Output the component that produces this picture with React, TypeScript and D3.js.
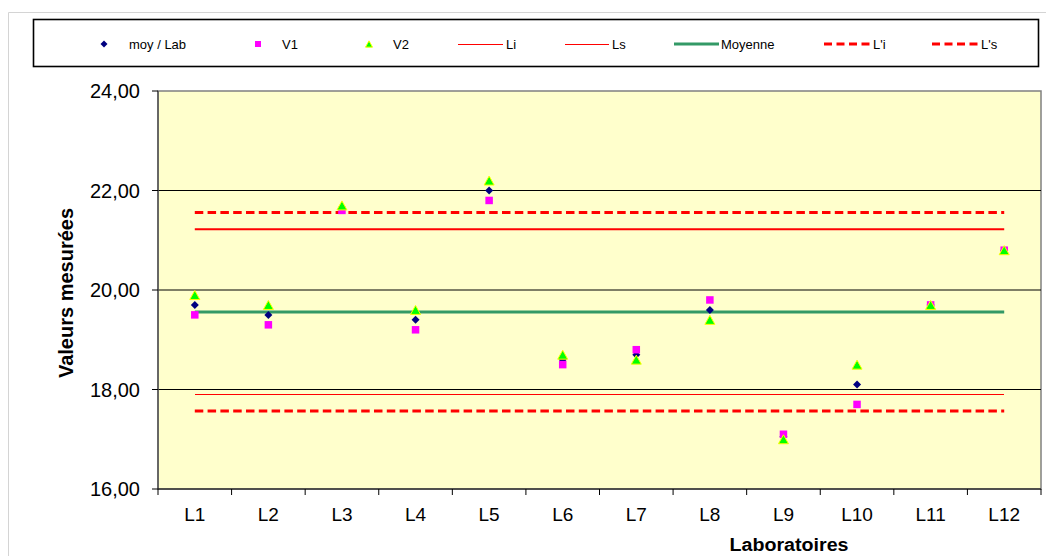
import React from "react";
import * as d3 from "d3";

const labs = ["L1", "L2", "L3", "L4", "L5", "L6", "L7", "L8", "L9", "L10", "L11", "L12"];
const moyLab = [19.7, 19.5, 21.65, 19.4, 22.0, 18.6, 18.7, 19.6, 17.05, 18.1, 19.7, 20.8];
const v1 = [19.5, 19.3, 21.6, 19.2, 21.8, 18.5, 18.8, 19.8, 17.1, 17.7, 19.7, 20.8];
const v2 = [19.9, 19.7, 21.7, 19.6, 22.2, 18.7, 18.6, 19.4, 17.0, 18.5, 19.7, 20.8];
const moyenne = 19.56;
const li = 17.89;
const ls = 21.22;
const lpi = 17.57;
const lps = 21.56;
const yTicks = [16, 18, 20, 22, 24];
const gridValues = [18, 20, 22];

const W = 1046;
const H = 556;
const plot = { left: 158, right: 1041, top: 91, bottom: 489 };

const fmt = (v: number) => v.toFixed(2).replace(".", ",");

const FONT = "'Liberation Sans', Arial, sans-serif";

function Diamond({ cx, cy, r }: { cx: number; cy: number; r: number }) {
  return (
    <path
      d={`M${cx},${cy - r}L${cx + r},${cy}L${cx},${cy + r}L${cx - r},${cy}Z`}
      fill="#000080"
    />
  );
}
function Square({ cx, cy, s }: { cx: number; cy: number; s: number }) {
  return <rect x={cx - s / 2} y={cy - s / 2} width={s} height={s} fill="#FF00FF" />;
}
function Tri({ cx, cy, s }: { cx: number; cy: number; s: number }) {
  const h = s * 0.9;
  return (
    <path
      d={`M${cx},${cy - h / 2}L${cx + s / 2},${cy + h / 2}L${cx - s / 2},${cy + h / 2}Z`}
      fill="#00FF00"
      stroke="#FFFF00"
      strokeWidth={1}
    />
  );
}

export default function App() {
  const x = d3.scaleBand<string>().domain(labs).range([plot.left, plot.right]).padding(0);
  const y = d3.scaleLinear().domain([16, 24]).range([plot.bottom, plot.top]);
  const cx = (l: string) => (x(l) as number) + x.bandwidth() / 2;
  const x0 = cx(labs[0]);
  const x1 = cx(labs[labs.length - 1]);

  const legendItems = [
    { label: "moy / Lab", kind: "diamond", sx: 104, tx: 129 },
    { label: "V1", kind: "square", sx: 258, tx: 282 },
    { label: "V2", kind: "tri", sx: 369, tx: 393 },
    { label: "Li", kind: "li", sx: 458, tx: 506 },
    { label: "Ls", kind: "ls", sx: 565, tx: 612 },
    { label: "Moyenne", kind: "moy", sx: 674, tx: 721 },
    { label: "L'i", kind: "dash", sx: 824, tx: 873 },
    { label: "L's", kind: "dash", sx: 932, tx: 981 },
  ];
  const ly = 44;

  const boundaries = d3.range(labs.length + 1).map((i) => plot.left + i * x.bandwidth());

  return (
    <div style={{ position: "absolute", left: 0, top: 0 }}>
      <svg width={W} height={H} style={{ display: "block", fontFamily: FONT }}>
        <rect x={0} y={0} width={W} height={H} fill="#fff" />
        {/* outer chart frame */}
        <path d={`M8.5,${H}V12.5H${W}`} fill="none" stroke="#d4d4d4" strokeWidth={1} />

        {/* legend */}
        <rect x={33.5} y={19.5} width={1005} height={47} fill="#fff" stroke="#000" strokeWidth={1.6} />
        {legendItems.map((it) => {
          let sym: React.ReactNode = null;
          if (it.kind === "diamond") sym = <Diamond cx={it.sx} cy={ly} r={3.5} />;
          else if (it.kind === "square") sym = <Square cx={it.sx} cy={ly} s={6} />;
          else if (it.kind === "tri") sym = <Tri cx={it.sx} cy={ly} s={7} />;
          else if (it.kind === "li")
            sym = <line x1={it.sx} x2={it.sx + 45} y1={ly + 0.5} y2={ly + 0.5} stroke="#FF0000" strokeWidth={1} shapeRendering="crispEdges" />;
          else if (it.kind === "ls")
            sym = <line x1={it.sx} x2={it.sx + 44} y1={ly + 0.5} y2={ly + 0.5} stroke="#FF0000" strokeWidth={1} shapeRendering="crispEdges" />;
          else if (it.kind === "moy")
            sym = <line x1={it.sx} x2={it.sx + 45} y1={ly} y2={ly} stroke="#339966" strokeWidth={3} />;
          else
            sym = (
              <line
                x1={it.sx}
                x2={it.sx + 46}
                y1={ly}
                y2={ly}
                stroke="#FF0000"
                strokeWidth={3}
                strokeDasharray="8 4.5"
              />
            );
          return (
            <g key={it.label}>
              {sym}
              <text x={it.tx} y={ly + 4.5} fontSize={13} fill="#000">
                {it.label}
              </text>
            </g>
          );
        })}

        {/* plot area */}
        <rect
          x={plot.left}
          y={plot.top}
          width={plot.right - plot.left}
          height={plot.bottom - plot.top}
          fill="#FFFFCC"
          stroke="#808080"
          strokeWidth={1.5}
        />
        {gridValues.map((g) => (
          <line key={g} x1={plot.left} x2={plot.right} y1={y(g)} y2={y(g)} stroke="#000" strokeWidth={1} />
        ))}

        {/* axes */}
        <line x1={plot.left} x2={plot.left} y1={plot.top} y2={plot.bottom} stroke="#555" strokeWidth={1.5} />
        <line x1={plot.left} x2={plot.right} y1={plot.bottom} y2={plot.bottom} stroke="#000" strokeWidth={1} />
        {yTicks.map((t) => (
          <g key={t}>
            <line x1={plot.left - 6} x2={plot.left} y1={y(t)} y2={y(t)} stroke="#000" strokeWidth={1} />
            <text x={140} y={y(t)} dy="0.36em" textAnchor="end" fontSize={20} fill="#000">
              {fmt(t)}
            </text>
          </g>
        ))}
        {boundaries.map((b, i) => (
          <line key={i} x1={b} x2={b} y1={plot.bottom} y2={plot.bottom + 6} stroke="#000" strokeWidth={1} />
        ))}
        {labs.map((l) => (
          <text key={l} x={cx(l)} y={521} textAnchor="middle" fontSize={19} fill="#000">
            {l}
          </text>
        ))}

        {/* axis titles */}
        <text
          x={0}
          y={0}
          transform={`translate(73,293) rotate(-90)`}
          textAnchor="middle"
          fontSize={20}
          fontWeight="bold"
          fill="#000"
        >
          Valeurs mesurées
        </text>
        <text
          x={789}
          y={551}
          textAnchor="middle"
          fontSize={18}
          fontWeight="bold"
          fill="#000"
          textLength={119}
          lengthAdjust="spacingAndGlyphs"
        >
          Laboratoires
        </text>

        {/* reference lines */}
        <line x1={x0} x2={x1} y1={y(lps)} y2={y(lps)} stroke="#FF0000" strokeWidth={3} strokeDasharray="8.5 4.3" />
        <line x1={x0} x2={x1} y1={y(lpi)} y2={y(lpi)} stroke="#FF0000" strokeWidth={3} strokeDasharray="8.5 4.3" />
        <line x1={x0} x2={x1} y1={y(ls)} y2={y(ls)} stroke="#FF0000" strokeWidth={2} />
        <line x1={x0} x2={x1} y1={y(li)} y2={y(li)} stroke="#FF0000" strokeWidth={1} shapeRendering="crispEdges" />
        <line x1={x0} x2={x1} y1={y(moyenne)} y2={y(moyenne)} stroke="#339966" strokeWidth={3} />

        {/* points */}
        {labs.map((l, i) => (
          <Diamond key={"d" + l} cx={cx(l)} cy={y(moyLab[i])} r={4} />
        ))}
        {labs.map((l, i) => (
          <Square key={"s" + l} cx={cx(l)} cy={y(v1[i])} s={7.5} />
        ))}
        {labs.map((l, i) => (
          <Tri key={"t" + l} cx={cx(l)} cy={y(v2[i])} s={10} />
        ))}
      </svg>
    </div>
  );
}
